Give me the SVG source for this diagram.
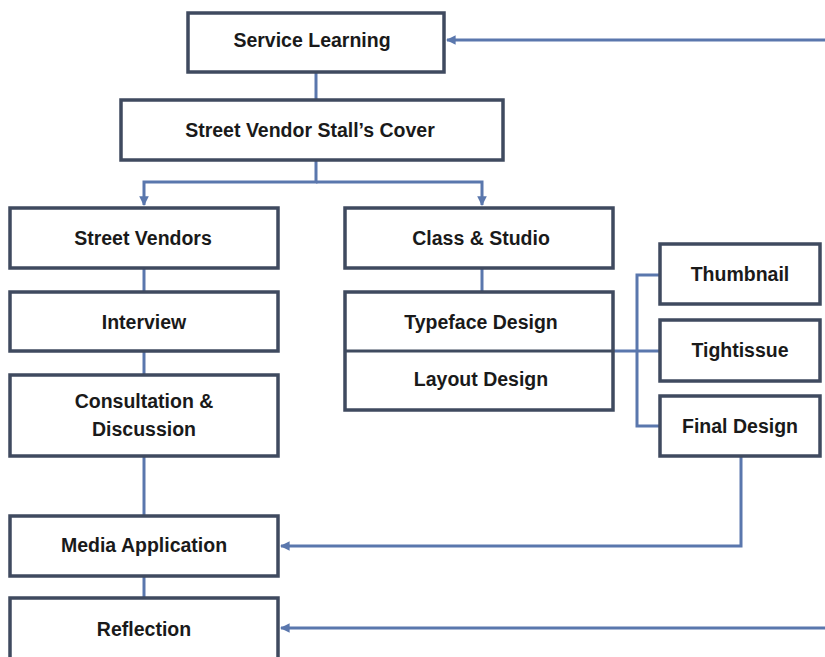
<svg xmlns="http://www.w3.org/2000/svg" width="825" height="657" viewBox="0 0 825 657">
<defs>
<marker id="ah" viewBox="0 0 10 10" refX="9" refY="5" markerWidth="3.2" markerHeight="3.2" orient="auto" markerUnits="strokeWidth">
<path d="M0,0 L10,5 L0,10 z" fill="#5a77ad"/>
</marker>
<style>
.box{fill:#fff;stroke:#3f4a5f;stroke-width:3.5}
.lbl{font-family:"Liberation Sans",Arial,sans-serif;font-weight:bold;font-size:19.5px;fill:#1a1a1a;text-anchor:middle;dominant-baseline:central}
.c{fill:none;stroke:#5a77ad;stroke-width:3}
</style>
</defs>
<rect width="825" height="657" fill="#fff"/>
<g id="connectors">
<path class="c" d="M316,72 V100"/>
<path class="c" d="M316,160 V182 H144 V205" marker-end="url(#ah)"/>
<path class="c" d="M316,182 H482 V205" marker-end="url(#ah)"/>
<path class="c" d="M144,268 V292"/>
<path class="c" d="M144,351 V375"/>
<path class="c" d="M144,456 V516"/>
<path class="c" d="M144,576 V598"/>
<path class="c" d="M482,268 V292"/>
<path class="c" d="M613,351 H660"/>
<path class="c" d="M660,275 H637 V426 H660"/>
<path class="c" d="M741,456 V546 H281" marker-end="url(#ah)"/>
<path class="c" d="M825,628 H281" marker-end="url(#ah)"/>
<path class="c" d="M825,40 H447" marker-end="url(#ah)"/>
</g>
<g id="service-learning"><rect class="box" x="188" y="13" width="256" height="59"/><text class="lbl" x="312" y="40">Service Learning</text></g>
<g id="stall-cover"><rect class="box" x="121" y="100" width="382" height="60"/><text class="lbl" x="310" y="130">Street Vendor Stall’s Cover</text></g>
<g id="street-vendors"><rect class="box" x="10" y="208" width="268" height="60"/><text class="lbl" x="143" y="238">Street Vendors</text></g>
<g id="interview"><rect class="box" x="10" y="292" width="268" height="59"/><text class="lbl" x="144" y="322">Interview</text></g>
<g id="consultation"><rect class="box" x="10" y="375" width="268" height="81"/><text class="lbl" x="144" y="401">Consultation &amp;</text><text class="lbl" x="144" y="429">Discussion</text></g>
<g id="media-application"><rect class="box" x="10" y="516" width="268" height="60"/><text class="lbl" x="144" y="545">Media Application</text></g>
<g id="reflection"><rect class="box" x="10" y="598" width="268" height="62"/><text class="lbl" x="144" y="629">Reflection</text></g>
<g id="class-studio"><rect class="box" x="345" y="208" width="268" height="60"/><text class="lbl" x="481" y="238">Class &amp; Studio</text></g>
<g id="design"><rect class="box" x="345" y="292" width="268" height="118"/><path d="M345,351 H613" stroke="#3f4a5f" stroke-width="3"/><text class="lbl" x="481" y="322">Typeface Design</text><text class="lbl" x="481" y="379">Layout Design</text></g>
<g id="thumbnail"><rect class="box" x="660" y="244" width="160" height="60"/><text class="lbl" x="740" y="274">Thumbnail</text></g>
<g id="tightissue"><rect class="box" x="660" y="320" width="160" height="61"/><text class="lbl" x="740" y="350">Tightissue</text></g>
<g id="final-design"><rect class="box" x="660" y="396" width="160" height="60"/><text class="lbl" x="740" y="426">Final Design</text></g>
</svg>
